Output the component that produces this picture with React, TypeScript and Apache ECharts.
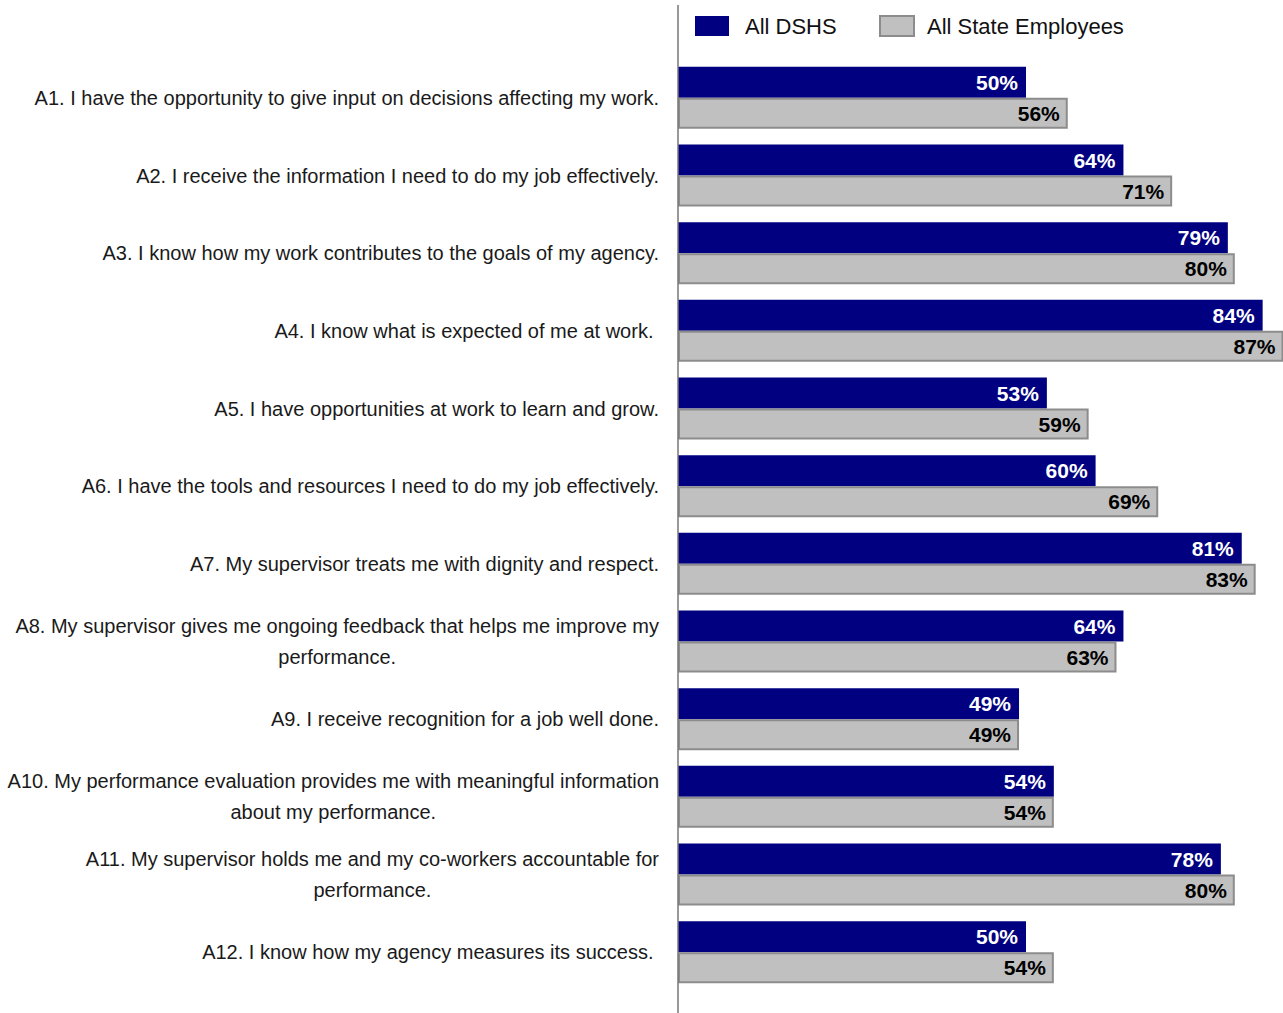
import React, { useEffect, useRef } from "react";
import * as echarts from "echarts";

// Survey statements (A1 at the top)
const questions: string[] = [
  "A1. I have the opportunity to give input on decisions affecting my work.",
  "A2. I receive the information I need to do my job effectively.",
  "A3. I know how my work contributes to the goals of my agency.",
  "A4. I know what is expected of me at work. ",
  "A5. I have opportunities at work to learn and grow.",
  "A6. I have the tools and resources I need to do my job effectively.",
  "A7. My supervisor treats me with dignity and respect.",
  "A8. My supervisor gives me ongoing feedback that helps me improve my\nperformance.",
  "A9. I receive recognition for a job well done.",
  "A10. My performance evaluation provides me with meaningful information\nabout my performance.",
  "A11. My supervisor holds me and my co-workers accountable for\nperformance.",
  "A12. I know how my agency measures its success. ",
];

const seriesNames: string[] = ["All DSHS", "All State Employees"];

// Percent agreeing
const dshsValues: number[] = [50, 64, 79, 84, 53, 60, 81, 64, 49, 54, 78, 50];
const stateValues: number[] = [56, 71, 80, 87, 59, 69, 83, 63, 49, 54, 80, 54];

const NARROW = "'Liberation Sans Narrow', 'Arial Narrow', 'Liberation Sans', Arial, sans-serif";
const SANS = "'Liberation Sans', Arial, Helvetica, sans-serif";

export default function App() {
  const ref = useRef<HTMLDivElement>(null);

  useEffect(() => {
    if (!ref.current) return;
    const chart = echarts.init(ref.current, undefined, { renderer: "svg" });

    const valueLabel = (color: string) => ({
      show: true,
      position: "insideRight" as const,
      distance: 8,
      formatter: "{c}%",
      color,
      fontFamily: SANS,
      fontWeight: "bold" as const,
      fontSize: 21,
    });

    const legendBase = {
      top: 15,
      padding: 0,
      itemWidth: 34,
      itemHeight: 20,
      icon: "rect",
    };

    chart.setOption({
      animation: false,
      backgroundColor: "#ffffff",
      legend: [
        {
          ...legendBase,
          data: [seriesNames[0]],
          left: 695,
          textStyle: {
            fontFamily: SANS,
            fontSize: 22,
            color: "#111",
            padding: [0, 0, 0, 11],
          },
        },
        {
          ...legendBase,
          data: [seriesNames[1]],
          left: 879,
          textStyle: {
            fontFamily: SANS,
            fontSize: 22,
            color: "#111",
            padding: [0, 0, 0, 8],
          },
        },
      ],
      grid: {
        left: 678,
        top: 59,
        width: 696,
        height: 932,
        containLabel: false,
        outerBoundsMode: "none",
      },
      xAxis: {
        type: "value",
        min: 0,
        max: 100,
        show: false,
      },
      yAxis: {
        type: "category",
        inverse: true,
        data: questions,
        axisLine: { show: false },
        axisTick: { show: false },
        axisLabel: {
          margin: 19,
          align: "right",
          interval: 0,
          formatter: (v: string) =>
            v
              .split("\n")
              .map((line) => `{c|${line}}`)
              .join("\n"),
          rich: {
            c: {
              align: "center",
              fontFamily: NARROW,
              fontSize: 20,
              lineHeight: 31,
              color: "#1a1a1a",
            },
          },
        },
      },
      graphic: [
        {
          type: "line",
          shape: { x1: 678, y1: 5, x2: 678, y2: 1013 },
          style: { stroke: "#777777", lineWidth: 1.5 },
          z: 10,
        },
      ],
      series: [
        {
          name: seriesNames[0],
          type: "bar",
          data: dshsValues,
          barWidth: 31,
          barGap: "0%",
          itemStyle: { color: "#000080" },
          label: valueLabel("#ffffff"),
        },
        {
          name: seriesNames[1],
          type: "bar",
          data: stateValues,
          barWidth: 31,
          barGap: "0%",
          itemStyle: { color: "#c0c0c0", borderColor: "#8c8c8c", borderWidth: 2 },
          label: valueLabel("#000000"),
        },
      ],
    });

    return () => chart.dispose();
  }, []);

  return (
    <div
      ref={ref}
      style={{ position: "fixed", left: 0, top: 0, width: 1283, height: 1013 }}
    />
  );
}
